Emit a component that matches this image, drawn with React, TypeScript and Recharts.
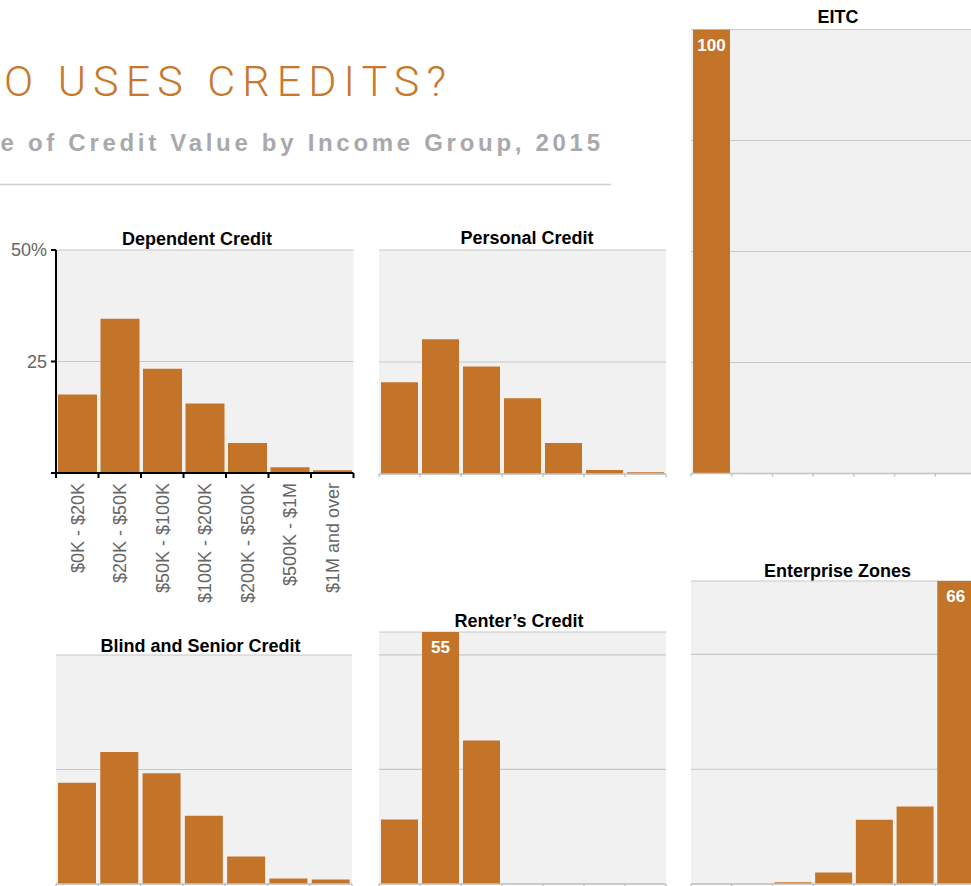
import React from 'react';
import { BarChart, Bar, XAxis, YAxis, CartesianGrid, LabelList } from 'recharts';

// ---- data ----
const categories = [
  '$0K - $20K',
  '$20K - $50K',
  '$50K - $100K',
  '$100K - $200K',
  '$200K - $500K',
  '$500K - $1M',
  '$1M and over',
];
const dependentCredit = [17.6, 34.6, 23.4, 15.6, 6.7, 1.3, 0.6];
const personalCredit = [20.5, 30.1, 24.0, 16.9, 6.9, 0.9, 0.4];
const eitc = [100, 0, 0, 0, 0, 0, 0];
const blindSeniorCredit = [22.1, 28.8, 24.2, 14.9, 6.0, 1.2, 1.0];
const rentersCredit = [14.1, 55, 31.3, 0, 0, 0, 0];
const enterpriseZones = [0, 0, 0.4, 2.5, 14.0, 16.9, 66];

const yTicksStd = [0, 25, 50];
const yTicksEitc = [0, 25, 50, 75, 100];

// visible (left-cropped) header texts
const TITLE = 'O USES CREDITS?';
const SUBTITLE = 'e of Credit Value by Income Group, 2015';

// ---- style ----
const BAR = '#c47429';
const BG = '#f1f1f1';
const GRID = '#c8c8c8';
const ORANGE = '#c8772b';
const FONT = '"Liberation Sans", Arial, Helvetica, sans-serif';

const makeData = (values: number[]) =>
  categories.map((c, i) => ({ cat: c, value: values[i] }));

// Tick drawing boundary tick marks (between bands) and, for the labelled panel, rotated labels.
const AxisTick = (props: any) => {
  const { x, y, payload, index, visibleTicksCount, width, primary } = props;
  const n = visibleTicksCount || categories.length;
  const half =
    payload && payload.offset ? Number(payload.offset) : Number(width) / n / 2;
  const color = primary ? '#000' : '#c4c4c4';
  const len = primary ? 5 : 3;
  const sw = primary ? 2 : 1.5;
  return (
    <g>
      <line x1={x - half} x2={x - half} y1={y} y2={y + len} stroke={color} strokeWidth={sw} />
      {index === n - 1 && (
        <line x1={x + half} x2={x + half} y1={y} y2={y + len} stroke={color} strokeWidth={sw} />
      )}
      {primary && (
        <g transform={`translate(${x},${y + 10}) rotate(-90)`}>
          <text x={0} y={0} dy="0.36em" textAnchor="end" fill="#666" fontSize={18} fontFamily={FONT}>
            {payload.value}
          </text>
        </g>
      )}
    </g>
  );
};

const ValueLabel = (props: any) => {
  const { x, y, width, value } = props;
  if (value == null || value <= 50) return null;
  return (
    <text
      x={Number(x) + Number(width) / 2}
      y={Number(y) + 21}
      textAnchor="middle"
      fill="#fff"
      fontSize={17}
      fontWeight="bold"
      fontFamily={FONT}
    >
      {value}
    </text>
  );
};

type PanelCfg = {
  title: string;
  values: number[];
  left: number;
  top: number;
  width: number;
  height: number;
  margin: { top: number; right: number; bottom: number; left: number };
  yTicks: number[];
  titleX: number;
  titleY: number;
  primary?: boolean;
};

const panels: PanelCfg[] = [
  {
    title: 'Dependent Credit',
    values: dependentCredit,
    left: 0, top: 230, width: 371, height: 380,
    margin: { top: 20, right: 17.5, bottom: 0, left: 0 },
    yTicks: yTicksStd, titleX: 197, titleY: 244.5, primary: true,
  },
  {
    title: 'Personal Credit',
    values: personalCredit,
    left: 370, top: 230, width: 310, height: 260,
    margin: { top: 20, right: 14, bottom: 15, left: 9 },
    yTicks: yTicksStd, titleX: 527, titleY: 243.5,
  },
  {
    title: 'EITC',
    values: eitc,
    left: 680, top: 0, width: 300, height: 490,
    margin: { top: 29.5, right: 4, bottom: 15.5, left: 11 },
    yTicks: yTicksEitc, titleX: 838, titleY: 22.5,
  },
  {
    title: 'Blind and Senior Credit',
    values: blindSeniorCredit,
    left: 0, top: 630, width: 371, height: 300,
    margin: { top: 25, right: 19, bottom: 45, left: 56 },
    yTicks: yTicksStd, titleX: 200.5, titleY: 651.5,
  },
  {
    title: 'Renter\u2019s Credit',
    values: rentersCredit,
    left: 370, top: 600, width: 310, height: 330,
    margin: { top: 32, right: 14, bottom: 45, left: 9 },
    yTicks: yTicksStd, titleX: 519, titleY: 626.5,
  },
  {
    title: 'Enterprise Zones',
    values: enterpriseZones,
    left: 680, top: 560, width: 300, height: 370,
    margin: { top: 21, right: 4, bottom: 45, left: 11 },
    yTicks: yTicksStd, titleX: 837.5, titleY: 576.5,
  },
];

const Panel = ({ cfg }: { cfg: PanelCfg }) => {
  const data = makeData(cfg.values);
  const yMax = Math.max(50, ...cfg.values);
  const primary = !!cfg.primary;
  const axisColor = primary ? '#000' : '#c4c4c4';
  return (
    <div style={{ position: 'absolute', left: cfg.left, top: cfg.top }}>
      <BarChart
        width={cfg.width}
        height={cfg.height}
        data={data}
        margin={cfg.margin}
        barCategoryGap={2}
      >
        <CartesianGrid
          vertical={false}
          fill={BG}
          fillOpacity={1}
          stroke={GRID}
          strokeWidth={1.2}
        />
        <XAxis
          dataKey="cat"
          type="category"
          interval={0}
          height={primary ? 137 : 1}
          axisLine={{ stroke: axisColor, strokeWidth: primary ? 2 : 1.5 }}
          tickLine={false}
          tickSize={0}
          tickMargin={0}
          tick={<AxisTick primary={primary} />}
        />
        <YAxis
          type="number"
          domain={[0, yMax]}
          ticks={cfg.yTicks}
          hide={!primary}
          width={56}
          allowDataOverflow
          axisLine={{ stroke: '#000', strokeWidth: 2 }}
          tickLine={{ stroke: '#000', strokeWidth: 2 }}
          tickSize={5}
          tickMargin={4}
          tick={{ fill: '#666', fontSize: 18, fontFamily: FONT }}
          tickFormatter={(v: number) => (v === 0 ? '' : v === 50 ? '50%' : String(v))}
        />
        <Bar dataKey="value" fill={BAR} isAnimationActive={false}>
          <LabelList dataKey="value" content={<ValueLabel />} />
        </Bar>
      </BarChart>
    </div>
  );
};

export default function App() {
  return (
    <div
      style={{
        position: 'absolute',
        left: 0,
        top: 0,
        width: 971,
        height: 886,
        overflow: 'hidden',
        background: '#fff',
      }}
    >
      <svg width={971} height={886} style={{ position: 'absolute', left: 0, top: 0 }}>
        <text
          x={4}
          y={96}
          textLength={442}
          lengthAdjust="spacing"
          fill={ORANGE}
          fontSize={43}
          fontWeight={300}
          fontFamily={'Roboto, "Liberation Sans", Arial, sans-serif'}
        >
          {TITLE}
        </text>
        <text
          x={0.5}
          y={151}
          textLength={599.5}
          lengthAdjust="spacing"
          fill="#a8a9ac"
          fontSize={24}
          fontWeight="bold"
          fontFamily={FONT}
        >
          {SUBTITLE}
        </text>
        <line x1={0} x2={611} y1={184.5} y2={184.5} stroke="#cfcfcf" strokeWidth={1.5} />
        {panels.map((p) => (
          <text
            key={p.title}
            x={p.titleX}
            y={p.titleY}
            textAnchor="middle"
            fill="#000"
            fontSize={18}
            fontWeight="bold"
            fontFamily={FONT}
          >
            {p.title}
          </text>
        ))}
      </svg>
      {panels.map((p) => (
        <Panel key={p.title} cfg={p} />
      ))}
    </div>
  );
}
